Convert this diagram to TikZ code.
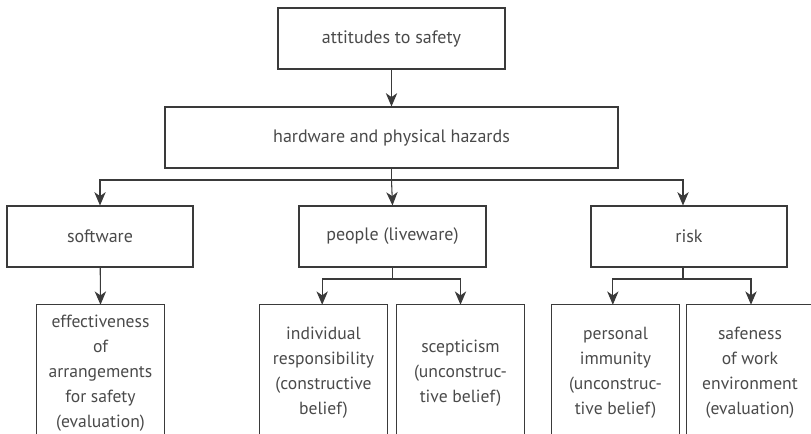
\documentclass[tikz,border=0pt]{standalone}
\usepackage{fontspec}
\setmainfont{PT Sans}
\usetikzlibrary{arrows.meta}
\definecolor{ln}{HTML}{3A3A3A}
\definecolor{tx}{HTML}{4A4A4A}
\tikzset{
  box/.style={draw=ln, line width=0.8pt, rectangle, inner sep=0pt, align=center, text=tx,
    font=\fontsize{13.5}{18.75}\selectfont, minimum height=45.75pt},
  openbox/.style={rectangle, inner sep=0pt, align=center, text=tx,
    font=\fontsize{13.2}{18.75}\selectfont, minimum width=95.25pt, minimum height=102pt},
  conn/.style={draw=ln, line width=0.8pt, -{Stealth[length=10pt,width=8.5pt,inset=3pt]}},
  edge/.style={draw=ln, line width=0.8pt}
}
\begin{document}
\begin{tikzpicture}[x=0.75pt,y=-0.75pt]
\clip (0,0) rectangle (811,434);
\useasboundingbox (0,0) rectangle (811,434);
\node[box, minimum width=170.25pt] (att) at (391.5,38.5) {attitudes to safety};
\node[box, minimum width=339.75pt] (hw) at (391.5,137.5) {hardware and physical hazards};
\node[box, minimum width=139.5pt] (sw) at (100,236.5) {software};
\node[box, minimum width=140.25pt] (ppl) at (392.5,236.5) {people (liveware)};
\node[box, minimum width=147pt] (risk) at (689,236.5) {risk};
\coordinate (hwb) at (391.5,180);
\coordinate (pplb) at (392.5,279);
\coordinate (riskb) at (683,279);
\node[openbox] (eff) at (100.5,373) {effectiveness\\of\\arrangements\\for safety\\(evaluation)};
\node[openbox] (ind) at (323.5,373) {individual\\responsibility\\(constructive\\belief)};
\node[openbox] (scep) at (460.5,373) {scepticism\\(unconstruc-\\tive belief)};
\node[openbox] (pers) at (615.5,373) {personal\\immunity\\(unconstruc-\\tive belief)};
\node[openbox] (safe) at (750,373) {safeness\\of work\\environment\\(evaluation)};
\foreach \b in {eff,ind,scep,pers,safe}{
  \draw[edge] (\b.south west) -- (\b.north west) -- (\b.north east) -- (\b.south east);
}
\draw[conn] (att) -- (hw);
\draw[edge] (hw.south) -- (hwb);
\draw[conn] (hwb) -| (sw.north);
\draw[conn] (hwb) -- (ppl.north);
\draw[conn] (hwb) -| ([xshift=-4.5pt]risk.north);
\draw[conn] (sw) -- (eff.north);
\draw[edge] (ppl.south) -- (pplb);
\draw[conn] (pplb) -| ([xshift=-1pt]ind.north);
\draw[conn] (pplb) -| (scep.north);
\draw[edge] ([xshift=-4.5pt]risk.south) -- (riskb);
\draw[conn] (riskb) -| ([xshift=-2pt]pers.north);
\draw[conn] (riskb) -| ([xshift=0.75pt]safe.north);
\end{tikzpicture}
\end{document}
